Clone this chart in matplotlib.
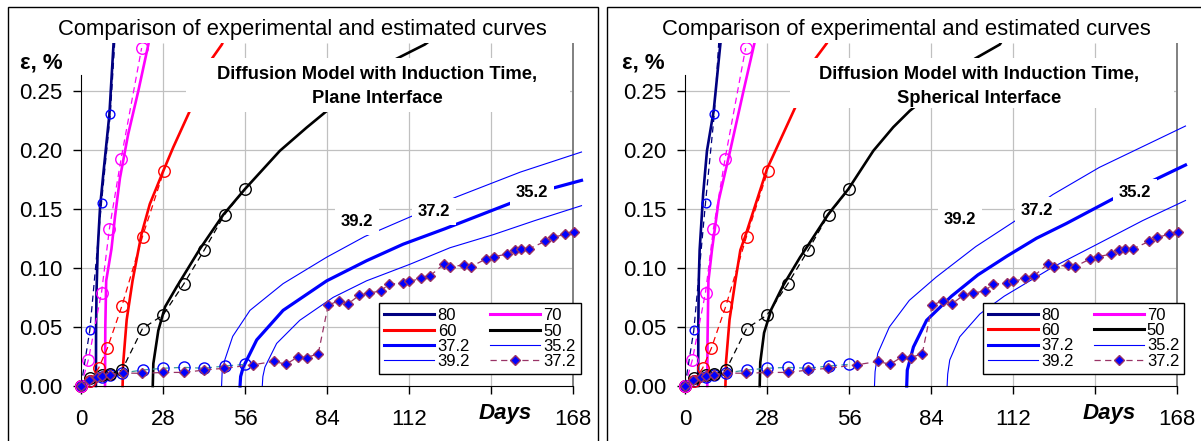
import matplotlib
matplotlib.use('Agg')
import matplotlib.pyplot as plt
from matplotlib.patches import Rectangle
from matplotlib.lines import Line2D

plt.rcParams['font.family'] = ['Liberation Sans', 'DejaVu Sans']

# ---------------- data ----------------
x_ticks = [0, 28, 56, 84, 112, 140, 168]
x_tick_labels = ['0', '28', '56', '84', '112', '', '168']
y_ticks = [0.00, 0.05, 0.10, 0.15, 0.20, 0.25]
y_tick_labels = ['0.00', '0.05', '0.10', '0.15', '0.20', '0.25']

# experimental data (same in both panels)
exp80_days = [0, 3, 7, 10, 12.5]
exp80_eps = [0, 0.047, 0.155, 0.230, 0.33]
exp70_days = [0, 2.5, 7, 9.7, 13.7, 20.7]
exp70_eps = [0, 0.022, 0.079, 0.133, 0.1925, 0.286]
exp60_days = [0, 3, 6, 9, 14, 21, 28.3]
exp60_eps = [0, 0.004, 0.015, 0.032, 0.068, 0.1265, 0.182]
exp50_days = [0, 3, 7, 10, 14, 21, 28, 35, 42, 49, 56]
exp50_eps = [0, 0.0065, 0.0093, 0.010, 0.0135, 0.0486, 0.060, 0.086, 0.1147, 0.145, 0.1667]
exp37c_days = [0, 3, 7, 10, 14, 21, 28, 35, 42, 49, 56]
exp37c_eps = [0, 0.004, 0.008, 0.0095, 0.011, 0.0135, 0.015, 0.0158, 0.015, 0.0169, 0.0183]
exp37d_days = [0, 2.8, 5.4, 7, 9.9, 14.2, 20.9, 28.1, 35.3, 42, 48.8, 58.8, 65.9, 70, 74, 77, 81,
               84.4, 88.2, 91.2, 95.0, 98.3, 102.3, 105.2, 110, 112, 116.2, 119.1, 123.8, 126.1,
               130.8, 133, 138.3, 141.1, 145.3, 148.1, 150.2, 152.9, 158.4, 161.2, 165.4, 168.3]
exp37d_eps = [0, 0.005, 0.0073, 0.0087, 0.0093, 0.011, 0.0107, 0.0115, 0.0115, 0.0135, 0.015, 0.0180,
              0.0208, 0.0184, 0.0245, 0.0240, 0.0273, 0.0684, 0.0723, 0.0695, 0.0768, 0.0785, 0.0805,
              0.0860, 0.0875, 0.0885, 0.0910, 0.0930, 0.1030, 0.1008, 0.1025, 0.1008, 0.1075, 0.1095,
              0.1115, 0.1148, 0.1160, 0.1160, 0.1223, 0.1257, 0.1285, 0.1305]

# model curves, plane interface (left)
p80_t = [5.1, 5.15, 5.3, 5.7, 6.5, 7.6, 9.7, 11.1, 11.3]
p80_e = [0, 0.05, 0.08, 0.115, 0.151, 0.179, 0.23, 0.289, 0.30]
p70_t = [8.2, 8.3, 8.6, 10.4, 11.6, 13.3, 16.1, 19.6, 23.0, 23.4]
p70_e = [0, 0.05, 0.089, 0.116, 0.143, 0.176, 0.213, 0.25, 0.289, 0.295]
p60_t = [14.2, 14.4, 15.6, 17.6, 19.6, 20.7, 23.5, 28.1, 31.5, 37.2, 44.7, 48.1, 48.6]
p60_e = [0, 0.019, 0.056, 0.089, 0.115, 0.129, 0.154, 0.182, 0.202, 0.233, 0.277, 0.289, 0.292]
p50_t = [24.5, 24.7, 26.4, 28.7, 32.7, 40.6, 48.6, 56, 67.9, 77, 83.9, 107, 117.4, 118.5]
p50_e = [0, 0.019, 0.047, 0.067, 0.084, 0.116, 0.145, 0.1667, 0.199, 0.2186, 0.2327, 0.276, 0.289, 0.291]
p392_t = [48.0, 48.2, 49.1, 51.8, 57.7, 69, 83.9, 96.9, 112.3, 128.2, 150, 170.9]
p392_e = [0, 0.012, 0.022, 0.042, 0.064, 0.0866, 0.109, 0.1265, 0.143, 0.160, 0.181, 0.198]
p372_t = [54.3, 54.5, 55.4, 60, 69, 83.9, 97.5, 110, 124.2, 147, 161.2, 170.9]
p372_e = [0, 0.008, 0.016, 0.039, 0.064, 0.089, 0.106, 0.12, 0.133, 0.155, 0.1675, 0.174]
p352_t = [61.9, 62.1, 62.8, 66.8, 74.7, 86.1, 97.5, 112.3, 126, 140.7, 155, 170.9]
p352_e = [0, 0.008, 0.016, 0.036, 0.0556, 0.075, 0.089, 0.103, 0.117, 0.128, 0.140, 0.1526]

# model curves, spherical interface (right)
s80_t = [4.5, 4.55, 4.7, 5.0, 6.2, 7.5, 9.8, 12.1, 12.3]
s80_e = [0, 0.05, 0.089, 0.115, 0.1625, 0.199, 0.233, 0.29, 0.295]
s70_t = [7.6, 7.7, 8.0, 9.2, 11.5, 15.5, 20.0, 23.7, 24.0]
s70_e = [0, 0.04, 0.089, 0.115, 0.157, 0.2, 0.25, 0.29, 0.294]
s60_t = [13.8, 14.0, 15.2, 17.2, 18.9, 20.6, 28.0, 37.6, 44.5, 48.4, 48.8]
s60_e = [0, 0.02, 0.056, 0.089, 0.115, 0.127, 0.1836, 0.2355, 0.277, 0.29, 0.292]
s50_t = [25.5, 25.7, 27.0, 29.5, 33.5, 39.3, 41.6, 49.0, 55.8, 64.3, 71.1, 76.8, 99.0, 107.5, 108.0]
s50_e = [0, 0.02, 0.045, 0.065, 0.085, 0.109, 0.1175, 0.1456, 0.1667, 0.199, 0.219, 0.233, 0.277, 0.289, 0.291]
s392_t = [64.7, 64.9, 65.8, 69.8, 76.6, 85.7, 99.3, 112.9, 125.6, 141.5, 170.9]
s392_e = [0, 0.012, 0.0275, 0.05, 0.0725, 0.092, 0.118, 0.14, 0.162, 0.185, 0.22]
s372_t = [75.7, 75.9, 78.0, 82.5, 91.0, 100.0, 110.0, 120.0, 130.2, 146.6, 160.8, 170.9]
s372_e = [0, 0.0135, 0.033, 0.0556, 0.076, 0.094, 0.11, 0.125, 0.1375, 0.159, 0.175, 0.187]
s352_t = [89.5, 89.7, 90.4, 93.8, 100.7, 109.0, 125.6, 140.0, 156.3, 170.9]
s352_e = [0, 0.01, 0.022, 0.0416, 0.061, 0.076, 0.1006, 0.119, 0.14, 0.157]

title_text = 'Comparison of experimental and estimated curves'
model_line1 = 'Diffusion Model with Induction Time,'
left_line2 = 'Plane Interface'
right_line2 = 'Spherical Interface'
legend_labels = ['80', '60', '37.2', '39.2', '70', '50', '35.2', '37.2']

# ---------------- figure ----------------
W, H = 1201, 441
fig = plt.figure(figsize=(W / 100, H / 100), dpi=100)

NAVY = '#000080'
MAG = '#FF00FF'
RED = '#FF0000'
BLK = '#000000'
BLUE = '#0000FF'
MAUVE = '#993366'
TEAL = '#3A9C9C'
GRID = '#C0C0C0'

XMAX, YMAX = 171, 0.29


def px_fig(x, y):
    return x / W, 1 - y / H


def make_axes(x0_px):
    left, bottom = x0_px / W, (H - 386) / H
    width = (XMAX * 2.9286) / W
    height = (386 - 43.3) / H
    return fig.add_axes([left, bottom, width, height])


def setup(ax):
    ax.set_xlim(0, XMAX)
    ax.set_ylim(0, YMAX)
    for s in ['top', 'right']:
        ax.spines[s].set_visible(False)
    ax.spines['bottom'].set_bounds(0, 168)
    ax.spines['left'].set_bounds(0, 0.263)
    ax.set_xticks(x_ticks)
    ax.set_xticklabels(x_tick_labels)
    ax.set_yticks(y_ticks)
    ax.set_yticklabels(y_tick_labels)
    ax.tick_params(direction='out', length=5.5, width=1, labelsize=16, colors='black')
    ax.tick_params(axis='x', pad=11)
    ax.tick_params(axis='y', pad=8)
    ax.hlines(y_ticks[1:], 0, 168, colors=GRID, lw=0.9, zorder=0.5)
    ax.vlines(x_ticks[1:-1], 0, YMAX, colors=GRID, lw=0.9, zorder=0.5)
    ax.vlines([168], 0, YMAX, colors='#808080', lw=1.4, zorder=0.6)


def clip(ax, artists):
    r = Rectangle((-0.03, -0.06), 1.06, 1.06, transform=ax.transAxes)
    for a in artists:
        a.set_clip_path(r)


def draw_panel(ax, curves, labels_pos, line2, box):
    setup(ax)
    arts = []
    (t80, e80), (t70, e70), (t60, e60), (t50, e50), (t392, e392), (t372, e372), (t352, e352) = curves
    # models
    arts += ax.plot(t392, e392, color=BLUE, lw=0.8, zorder=2)
    arts += ax.plot(t352, e352, color=BLUE, lw=0.8, zorder=2)
    arts += ax.plot(t372, e372, color=BLUE, lw=2.3, zorder=2)
    arts += ax.plot(t80, e80, color=NAVY, lw=1.9, zorder=2)
    arts += ax.plot(t70, e70, color=MAG, lw=1.9, zorder=2)
    arts += ax.plot(t60, e60, color=RED, lw=1.9, zorder=2)
    arts += ax.plot(t50, e50, color=BLK, lw=1.9, zorder=2)
    # experimental
    ds = (0, (5, 3.5))
    arts += ax.plot(exp37c_days, exp37c_eps, color=TEAL, lw=0.9, ls=ds, marker='o', ms=8,
                    mfc='none', mec=BLUE, mew=1.0, zorder=3)
    arts += ax.plot(exp37d_days, exp37d_eps, color=MAUVE, lw=0.9, ls=ds, marker='D', ms=5.5,
                    mfc=BLUE, mec=MAUVE, mew=1.0, zorder=3.2)
    arts += ax.plot(exp50_days, exp50_eps, color=BLK, lw=0.9, ls=ds, marker='o', ms=8.3,
                    mfc='none', mec=BLK, mew=1.0, zorder=3)
    arts += ax.plot(exp60_days, exp60_eps, color=RED, lw=0.9, ls=ds, marker='o', ms=8.3,
                    mfc='none', mec=RED, mew=1.0, zorder=3)
    arts += ax.plot(exp70_days, exp70_eps, color=MAG, lw=0.9, ls=ds, marker='o', ms=8.3,
                    mfc='none', mec=MAG, mew=1.0, zorder=3)
    arts += ax.plot(exp80_days, exp80_eps, color=NAVY, lw=0.9, ls=ds, marker='o', ms=6.3,
                    mfc='none', mec=BLUE, mew=1.0, zorder=3)
    clip(ax, arts)
    # curve labels
    for txt, (x, y) in zip(['39.2', '37.2', '35.2'], labels_pos):
        ax.text(x, y, txt, ha='center', va='center', fontsize=12, fontweight='bold', zorder=6,
                bbox=dict(boxstyle='square,pad=0.35', fc='white', ec='none'))
    # model annotation box
    bx0, bx1, by0, by1, cx = box
    ax.add_patch(Rectangle((bx0, by0), bx1 - bx0, by1 - by0, fc='white', ec='none', zorder=5))
    ax.text(cx, 0.2632, model_line1, ha='center', va='center', fontsize=13.2,
            fontweight='bold', zorder=6)
    ax.text(cx, 0.2437, line2, ha='center', va='center', fontsize=13.2,
            fontweight='bold', zorder=6)
    ax.text(144.7, -0.0235, 'Days', ha='center', va='center', fontsize=16, fontweight='bold',
            fontstyle='italic', zorder=6)
    # legend handles
    handles = [
        Line2D([], [], color=NAVY, lw=2.2),
        Line2D([], [], color=RED, lw=2.2),
        Line2D([], [], color=BLUE, lw=2.2),
        Line2D([], [], color=BLUE, lw=0.8),
        Line2D([], [], color=MAG, lw=2.2),
        Line2D([], [], color=BLK, lw=2.2),
        Line2D([], [], color=BLUE, lw=0.8),
        Line2D([], [], color=MAUVE, lw=0.9, ls=(0, (5, 3.5)), marker='D', ms=5.5,
               mfc=BLUE, mec=MAUVE),
    ]
    return handles


curves_left = [(p80_t, p80_e), (p70_t, p70_e), (p60_t, p60_e), (p50_t, p50_e),
               (p392_t, p392_e), (p372_t, p372_e), (p352_t, p352_e)]
curves_right = [(s80_t, s80_e), (s70_t, s70_e), (s60_t, s60_e), (s50_t, s50_e),
                (s392_t, s392_e), (s372_t, s372_e), (s352_t, s352_e)]

panels = [
    (81, curves_left, [(94.2, 0.139), (120.5, 0.1475), (153.9, 0.1636)], left_line2,
     (36, 167, 0.2315, 0.2775, 101.1), 302, 41, (379.3, 303.3), (8, 7, 598)),
    (685, curves_right, [(93.8, 0.1405), (120.3, 0.1484), (153.7, 0.1638)], right_line2,
     (36, 167, 0.2355, 0.2775, 100.3), 906, 643, (982.7, 302.7), (607, 7, 1204)),
]

for x0, curves, lpos, line2, box, title_x, eps_x, leg_xy, frame in panels:
    ax = make_axes(x0)
    handles = draw_panel(ax, curves, lpos, line2, box)
    lx, ly = px_fig(*leg_xy)
    leg = fig.legend(handles, legend_labels, ncol=2, loc='upper left', bbox_to_anchor=(lx, ly),
                     fontsize=12, frameon=True, fancybox=False, shadow=False,
                     borderpad=0.3, labelspacing=0.02, handlelength=3.0, handletextpad=0.2,
                     columnspacing=1.2, borderaxespad=0)
    leg.get_frame().set_edgecolor('black')
    leg.get_frame().set_linewidth(1.0)
    leg.get_frame().set_facecolor('white')
    leg.get_frame().set_alpha(1)
    leg.set_zorder(10)
    tx, ty = px_fig(title_x, 30)
    fig.text(tx, ty, title_text, ha='center', va='center', fontsize=15.8)
    ex, ey = px_fig(eps_x, 63)
    fig.text(ex, ey, 'ε, %', ha='center', va='center', fontsize=16, fontweight='bold')
    fx0, fy0, fx1 = frame
    a, b = px_fig(fx0, 460)
    c, d = px_fig(fx1, fy0)
    fig.add_artist(Rectangle((a, b), c - a, d - b, transform=fig.transFigure, fill=False,
                             ec='black', lw=1.0))

fig.savefig('out.png', dpi=100)
